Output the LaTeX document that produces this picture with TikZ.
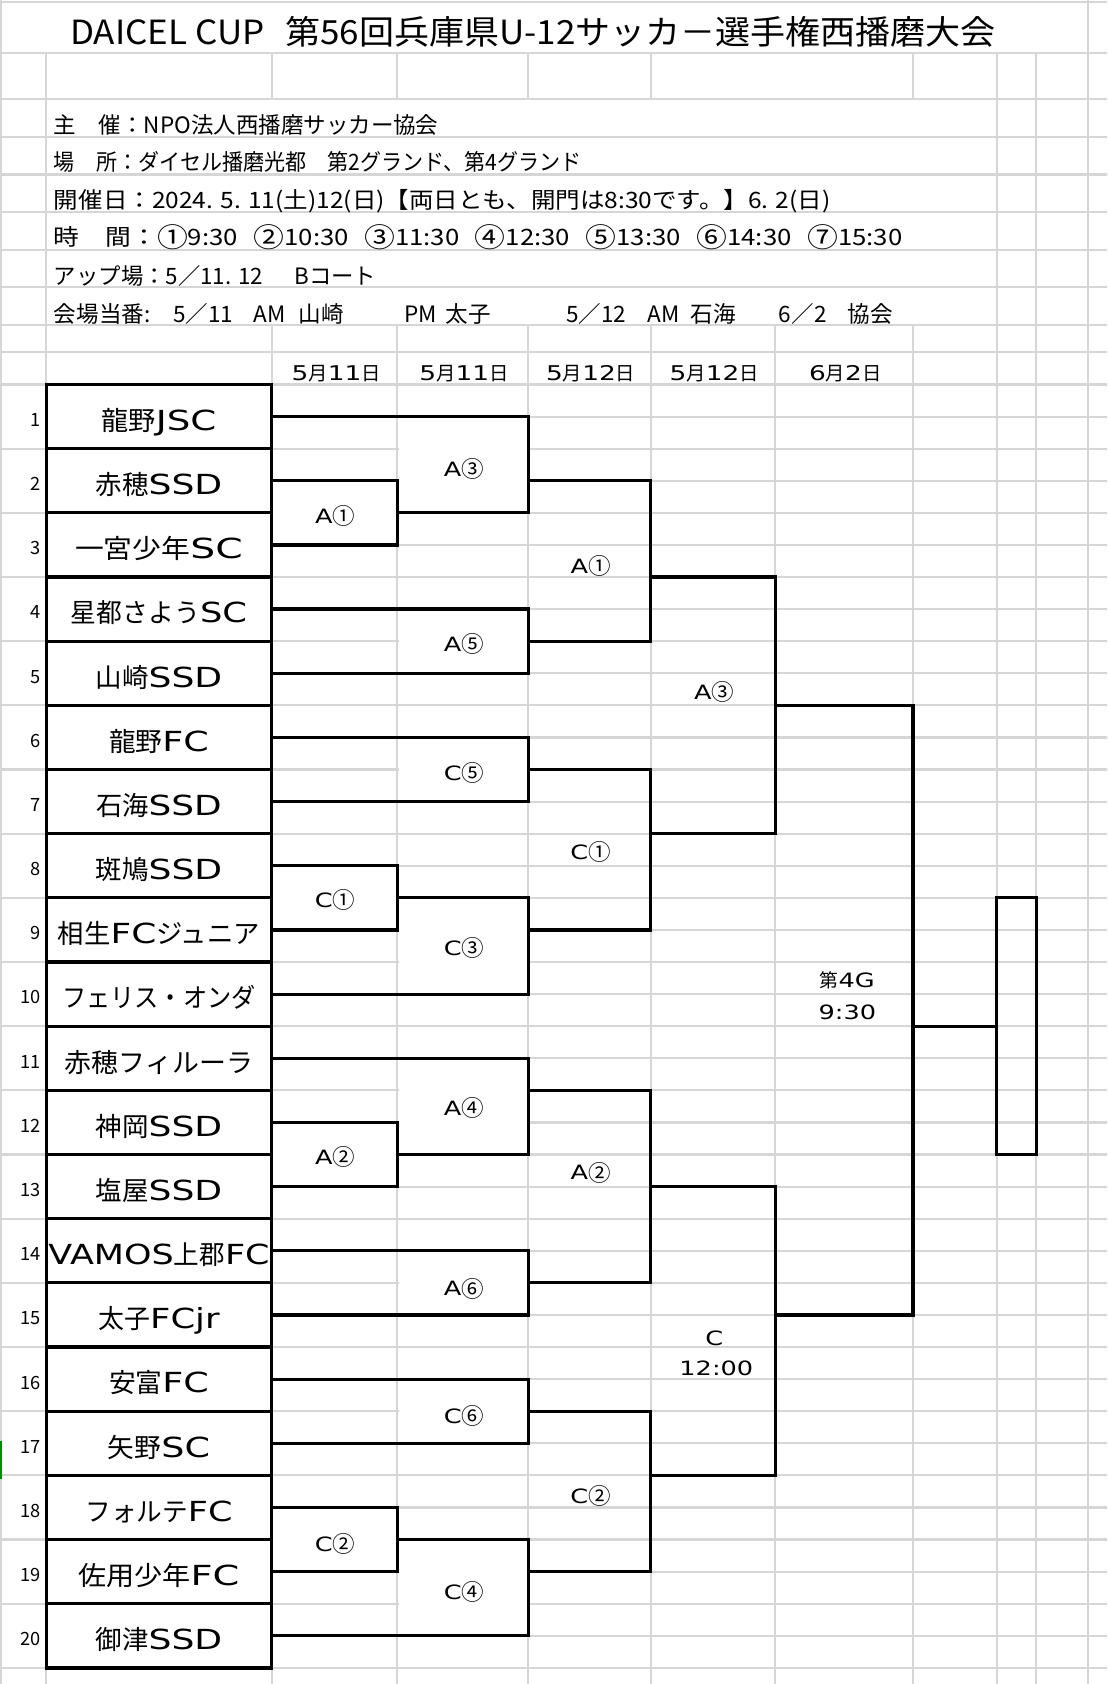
\documentclass[tikz,border=0pt]{standalone}
\usepackage{fontspec}
\setmainfont{Noto Sans CJK JP}
\newfontfamily\latfont[Scale=1.05,FakeStretch=1.3]{DejaVu Sans}
\newcommand{\latn}[1]{{\latfont #1}}
\newcommand{\cir}[1]{\raisebox{-0.06em}{\scalebox{1.2}{#1}}}
\newlength{\upx}\setlength{\upx}{0.75pt}
\newcommand{\fitw}[2]{\resizebox{#1\upx}{\height}{#2}}
\tikzset{
  gridln/.style={draw=black!16, line width=1.5pt},
  bline/.style={draw=black, line width=2.25pt},
  teambox/.style={draw=black, line width=2.25pt, fill=white, minimum width=157.5pt, minimum height=44.8125pt, inner sep=0pt, text height=19.2pt, text depth=0pt, font=\fontsize{18.4pt}{22pt}\selectfont},
  finalbox/.style={draw=black, line width=2.25pt, minimum width=27.75pt, minimum height=179.25pt, inner sep=0pt},
  numlab/.style={anchor=base east, inner sep=0pt, font=\fontsize{12.75pt}{15pt}\selectfont},
  matchlab/.style={anchor=base, inner sep=0pt, font=\fontsize{13.1pt}{16pt}\selectfont},
  datelab/.style={anchor=base, inner sep=0pt, font=\fontsize{13.5pt}{16pt}\selectfont},
  infolab/.style={anchor=base west, inner sep=0pt, font=\fontsize{15.75pt}{18pt}\selectfont},
  titlelab/.style={anchor=base west, inner sep=0pt, font=\fontsize{23.25pt}{28pt}\selectfont},
}
\begin{document}
\begin{tikzpicture}[x=0.75pt,y=-0.75pt]
\useasboundingbox (0,0) rectangle (1031,1568);
\fill[white] (0,0) rectangle (1031,1568);
% ---- gray grid
\foreach \yy in {2,49,92.5,127.5,162.5,197.5,232.5,267.5,303,328}
  \draw[gridln] (0,\yy) -- (1031,\yy);
\foreach \k in {0,...,40}
  \draw[gridln] (43,{358+29.875*\k}) -- (1031,{358+29.875*\k});
\foreach \k in {0,2,...,40}
  \draw[gridln] (0,{358+29.875*\k}) -- (43,{358+29.875*\k});
\draw[gridln] (0.75,0) -- (0.75,1568);
\draw[gridln] (1013,0) -- (1013,1568);
\foreach \xx in {43,928,965} \draw[gridln] (\xx,49) -- (\xx,1568);
\foreach \xx in {253,370,492,606,850} {
  \draw[gridln] (\xx,49) -- (\xx,92.5);
  \draw[gridln] (\xx,303) -- (\xx,1568);
}
\draw[gridln] (722,303) -- (722,1568);
\draw[green!55!black, line width=1.5pt] (0.75,1342) -- (0.75,1377);
% ---- merged label cells (no grid inside)
\foreach \xa/\xb/\ka/\kb in {253/370/3/5, 370/492/1/4, 370/492/7/9, 370/492/11/13, 253/370/15/17, 370/492/16/19, 370/492/21/24, 253/370/23/25, 370/492/27/29, 370/492/31/33, 253/370/35/37, 370/492/36/39}
  \fill[white] ({\xa+1.5},{358+29.875*\ka+1.5}) rectangle ({\xb-1.5},{358+29.875*\kb-1.5});
% ---- title and information
\node[titlelab] (title) at (65,41) {\fitw{862}{DAICEL CUP\hspace{0.6em}第56回兵庫県U-12サッカ－選手権西播磨大会}};
\node[infolab] (i1) at (50,124) {\fitw{358}{主　催：NPO法人西播磨サッカー協会}};
\node[infolab] (i2) at (50,159) {\fitw{491}{場　所：ダイセル播磨光都　第2グランド、第4グランド}};
\node[infolab] (i3) at (50,194) {\fitw{723}{開催日：2024. 5. 11(土)12(日)【両日とも、開門は8:30です。】6. 2(日)}};
\node[infolab] (i4) at (50,229) {\fitw{790}{時　間：\cir{①}9:30\hspace{0.6em}\cir{②}10:30\hspace{0.6em}\cir{③}11:30\hspace{0.6em}\cir{④}12:30\hspace{0.6em}\cir{⑤}13:30\hspace{0.6em}\cir{⑥}14:30\hspace{0.6em}\cir{⑦}15:30}};
\node[infolab] (i5) at (50,265) {\fitw{300}{アップ場：5／11. 12\hspace{1.4em}Bコート}};
\node[infolab] (i6a) at (50,300) {会場当番:};
\node[infolab] (i6b) at (161,300) {5／11};
\node[infolab] (i6c) at (236,300) {AM};
\node[infolab] (i6d) at (278,300) {山崎};
\node[infolab] (i6e) at (376,300) {PM};
\node[infolab] (i6f) at (415,300) {太子};
\node[infolab] (i6g) at (527,300) {5／12};
\node[infolab] (i6h) at (603,300) {AM};
\node[infolab] (i6i) at (643,300) {石海};
\node[infolab] (i6j) at (725,300) {6／2};
\node[infolab] (i6k) at (789,300) {協会};
% ---- dates
\node[datelab] (d1) at (313,354) {\latn{5}月\latn{11}日};
\node[datelab] (d2) at (432,354) {\latn{5}月\latn{11}日};
\node[datelab] (d3) at (550,354) {\latn{5}月\latn{12}日};
\node[datelab] (d4) at (665,354) {\latn{5}月\latn{12}日};
\node[datelab] (d5) at (787,354) {\latn{6}月\latn{2}日};
% ---- teams
\foreach \i/\w/\nm in {
  1/107/{龍野\latn{JSC}},
  2/118/{赤穂\latn{SSD}},
  3/156/{一宮少年\latn{SC}},
  4/164/{星都さよう\latn{SC}},
  5/118/{山崎\latn{SSD}},
  6/93/{龍野\latn{FC}},
  7/117/{石海\latn{SSD}},
  8/118/{斑鳩\latn{SSD}},
  9/188/{相生\latn{FC}ジュニア},
  10/180/{フェリス・オンダ},
  11/175/{赤穂フィルーラ},
  12/118/{神岡\latn{SSD}},
  13/118/{塩屋\latn{SSD}},
  14/206/{\latn{VAMOS}上郡\latn{FC}},
  15/113/{太子\latn{FCjr}},
  16/93/{安富\latn{FC}},
  17/95/{矢野\latn{SC}},
  18/137/{フォルテ\latn{FC}},
  19/150/{佐用少年\latn{FC}},
  20/118/{御津\latn{SSD}}}
{
  \node[teambox] (t\i) at (148,{358+59.75*(\i-0.5)}) {\fitw{\w}{\nm}};
  \node[numlab] (n\i) at (38,{358+59.75*(\i-0.5)+9.2}) {\i};
}
\node[finalbox] (final) at (946.5,955.5) {};
% ---- winner points
\coordinate (wA1) at (370,477.5);
\coordinate (wA3) at (492,447.625);
\coordinate (wA5) at (492,597);
\coordinate (wA1p) at (606,537.25);
\coordinate (wC5) at (492,716.5);
\coordinate (wC1) at (370,836);
\coordinate (wC3) at (492,865.875);
\coordinate (wC1p) at (606,776.25);
\coordinate (wA3p) at (722,656.75);
\coordinate (wA2) at (370,1075);
\coordinate (wA4) at (492,1015.25);
\coordinate (wA6) at (492,1194.5);
\coordinate (wA2p) at (606,1104.875);
\coordinate (wC6) at (492,1314);
\coordinate (wC2) at (370,1433.5);
\coordinate (wC4) at (492,1463.375);
\coordinate (wC2p) at (606,1373.75);
\coordinate (wCp) at (722,1224.375);
\coordinate (wF) at (850,955.5);
% ---- bracket lines
\draw[bline] (t2.east) -| (wA1) |- (t3.east);
\draw[bline] (t1.east) -| (wA3) |- (wA1);
\draw[bline] (t4.east) -| (wA5) |- (t5.east);
\draw[bline] (wA3) -| (wA1p) |- (wA5);
\draw[bline] (t6.east) -| (wC5) |- (t7.east);
\draw[bline] (t8.east) -| (wC1) |- (t9.east);
\draw[bline] (wC1) -| (wC3) |- (t10.east);
\draw[bline] (wC5) -| (wC1p) |- (wC3);
\draw[bline] (wA1p) -| (wA3p) |- (wC1p);
\draw[bline] (t12.east) -| (wA2) |- (t13.east);
\draw[bline] (t11.east) -| (wA4) |- (wA2);
\draw[bline] (t14.east) -| (wA6) |- (t15.east);
\draw[bline] (wA4) -| (wA2p) |- (wA6);
\draw[bline] (t16.east) -| (wC6) |- (t17.east);
\draw[bline] (t18.east) -| (wC2) |- (t19.east);
\draw[bline] (wC2) -| (wC4) |- (t20.east);
\draw[bline] (wC6) -| (wC2p) |- (wC4);
\draw[bline] (wA2p) -| (wCp) |- (wC2p);
\draw[bline] (wA3p) -| (wF) |- (wCp);
\draw[bline] (wF) -- (final.west);
% ---- match labels
\node[matchlab] (lA1) at (312,487.6) {\latn{A}\cir{①}};
\node[matchlab] (lA3) at (432,443.6) {\latn{A}\cir{③}};
\node[matchlab] (lA5) at (432,606.6) {\latn{A}\cir{⑤}};
\node[matchlab] (lC5) at (432,726.6) {\latn{C}\cir{⑤}};
\node[matchlab] (lC1) at (312,844.6) {\latn{C}\cir{①}};
\node[matchlab] (lC3) at (432,889.6) {\latn{C}\cir{③}};
\node[matchlab] (lA1p) at (550,533.6) {\latn{A}\cir{①}};
\node[matchlab] (lC1p) at (550,800.6) {\latn{C}\cir{①}};
\node[matchlab] (lA3p) at (665,651.6) {\latn{A}\cir{③}};
\node[matchlab] (lG4) at (789,919.6) {第\latn{4G}};
\node[matchlab] (lT1) at (789,949.6) {\latn{9:30}};
\node[matchlab] (lA4) at (432,1038.6) {\latn{A}\cir{④}};
\node[matchlab] (lA2) at (312,1084.6) {\latn{A}\cir{②}};
\node[matchlab] (lA6) at (432,1206.6) {\latn{A}\cir{⑥}};
\node[matchlab] (lC6) at (432,1325.6) {\latn{C}\cir{⑥}};
\node[matchlab] (lC2) at (312,1444.6) {\latn{C}\cir{②}};
\node[matchlab] (lC4) at (432,1489.6) {\latn{C}\cir{④}};
\node[matchlab] (lA2p) at (550,1098.6) {\latn{A}\cir{②}};
\node[matchlab] (lC2p) at (550,1399.6) {\latn{C}\cir{②}};
\node[matchlab] (lC) at (665,1252.6) {\latn{C}};
\node[matchlab] (lT2) at (667,1280.6) {\latn{12:00}};
\end{tikzpicture}
\end{document}
